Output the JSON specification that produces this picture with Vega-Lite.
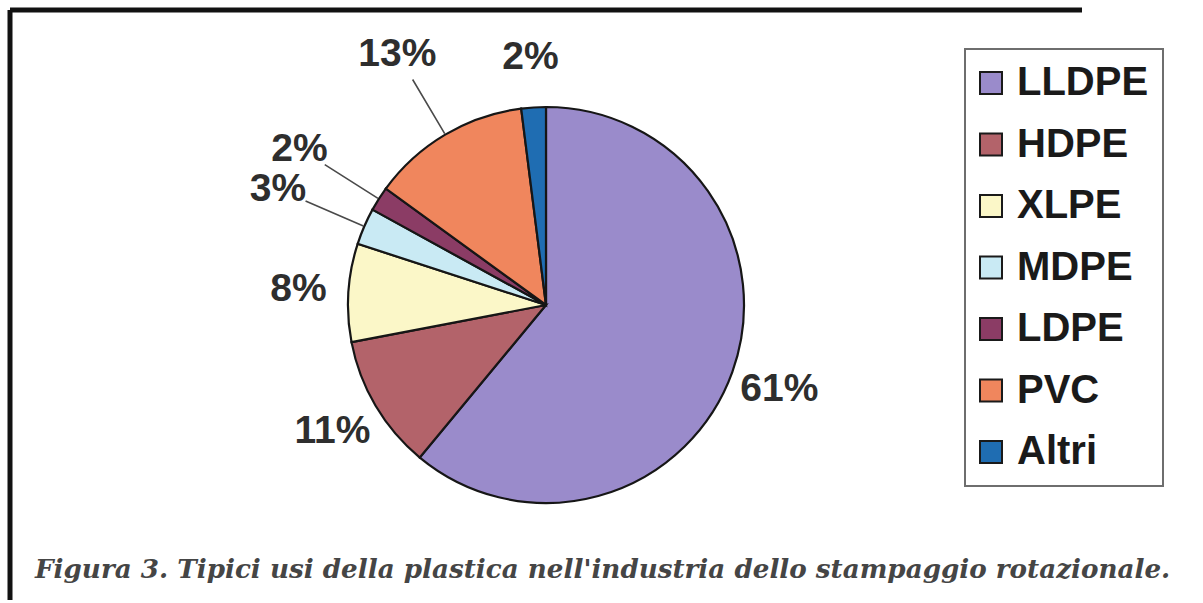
{
  "$schema": "https://vega.github.io/schema/vega-lite/v6.json",
  "width": 1072,
  "height": 590,
  "autosize": "none",
  "padding": {"left": 10, "top": 10, "right": 121, "bottom": 3},
  "background": "white",
  "view": {"stroke": "#111111", "strokeWidth": 5, "strokeDash": [1072, 1662, 590, 0], "fill": "white"},
  "config": {
    "legend": {
      "orient": "none",
      "legendX": 955,
      "legendY": 39,
      "padding": 14,
      "strokeColor": "#6e6e6e",
      "strokeWidth": 2,
      "fillColor": "white",
      "symbolType": "square",
      "symbolSize": 484,
      "symbolStrokeWidth": 2,
      "symbolStrokeColor": "#1a1a1a",
      "symbolOpacity": 1,
      "symbolOffset": -8,
      "labelFont": "Liberation Sans",
      "labelFontWeight": "bold",
      "labelFontSize": 40,
      "labelColor": "#1a1a1a",
      "labelOffset": 6,
      "rowPadding": 21.5
    }
  },
  "title": {
    "text": "Figura 3. Tipici usi della plastica nell'industria dello stampaggio rotazionale.",
    "orient": "bottom",
    "anchor": "start",
    "frame": "group",
    "baseline": "alphabetic",
    "offset": -22,
    "dx": 25,
    "font": "DejaVu Serif",
    "fontStyle": "italic",
    "fontWeight": "bold",
    "fontSize": 26.2,
    "color": "#454545"
  },
  "data": {
    "values": [
      {"material": "LLDPE", "share": 61, "order": 1},
      {"material": "HDPE", "share": 11, "order": 2},
      {"material": "XLPE", "share": 8, "order": 3},
      {"material": "MDPE", "share": 3, "order": 4},
      {"material": "LDPE", "share": 2, "order": 5},
      {"material": "PVC", "share": 13, "order": 6},
      {"material": "Altri", "share": 2, "order": 7}
    ]
  },
  "transform": [
    {"window": [{"op": "sum", "field": "share", "as": "cum"}], "sort": [{"field": "order"}], "frame": [null, 0]},
    {"calculate": "datum.cum - datum.share / 2", "as": "mid"},
    {"calculate": "datum.share + '%'", "as": "label"},
    {"calculate": "indexof(['MDPE', 'LDPE', 'PVC'], datum.material) >= 0", "as": "callout"}
  ],
  "layer": [
    {
      "mark": {"type": "arc", "outerRadius": 198, "stroke": "#161616", "strokeWidth": 2.2},
      "encoding": {
        "theta": {"field": "share", "type": "quantitative", "stack": true, "scale": {"domain": [0, 100]}},
        "order": {"field": "order", "type": "quantitative"},
        "color": {
          "field": "material",
          "type": "nominal",
          "title": null,
          "scale": {
            "domain": ["LLDPE", "HDPE", "XLPE", "MDPE", "LDPE", "PVC", "Altri"],
            "range": ["#9a8bcb", "#b3636a", "#fbf7c8", "#c9eaf4", "#8b3c65", "#f0865d", "#1f6db2"]
          }
        }
      }
    },
    {
      "transform": [{"filter": "datum.callout"}],
      "mark": {"type": "arc", "radius": 262, "radius2": 199, "filled": false, "stroke": "#4a4a4a", "strokeWidth": 1.6},
      "encoding": {
        "theta": {"field": "mid", "type": "quantitative", "stack": null, "scale": {"domain": [0, 100]}},
        "theta2": {"field": "mid"}
      }
    },
    {
      "transform": [{"filter": "!datum.callout"}],
      "mark": {"type": "text", "radius": 248, "font": "Liberation Sans", "fontWeight": "bold", "fontSize": 39, "color": "#2e2e2e", "baseline": "middle", "align": "center"},
      "encoding": {
        "theta": {"field": "mid", "type": "quantitative", "stack": null, "scale": {"domain": [0, 100]}},
        "text": {"field": "label"}
      }
    },
    {
      "transform": [{"filter": "datum.callout"}],
      "mark": {"type": "text", "radius": 292, "font": "Liberation Sans", "fontWeight": "bold", "fontSize": 39, "color": "#2e2e2e", "baseline": "middle", "align": "center"},
      "encoding": {
        "theta": {"field": "mid", "type": "quantitative", "stack": null, "scale": {"domain": [0, 100]}},
        "text": {"field": "label"}
      }
    }
  ]
}
